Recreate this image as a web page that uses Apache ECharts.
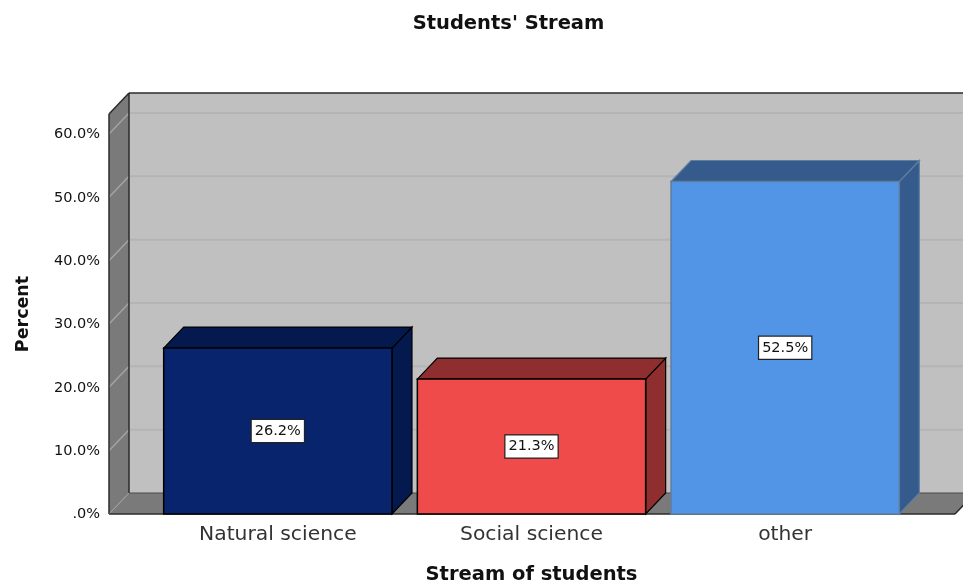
<!DOCTYPE html>
<html>
<head>
<meta charset="utf-8">
<style>html,body{margin:0;padding:0;background:#fff}#c{width:963px;height:584px}</style>
<script src="https://cdn.jsdelivr.net/npm/echarts@6/dist/echarts.min.js"></script>
</head>
<body>
<div id="c"></div>
<script>
const categories = ['Natural science', 'Social science', 'other'];
const percents = [26.2, 21.3, 52.5];
const yTicks = [0, 10, 20, 30, 40, 50, 60];
const frontColors = ['#08246c', '#ef4b4b', '#5294e6'];
const sideColors = ['#041a4f', '#8f2e2e', '#355a8c'];
const topColors = ['#041a4f', '#8f2e2e', '#355a8c'];
const edgeColors = ['#000000', '#000000', '#5f7f9f'];

const DX = 20, DY = 21, PAD_L = 42, PAD_R = 43;
const chart = echarts.init(document.getElementById('c'), null, {renderer: 'canvas'});

function poly(points, fill, stroke, lw) {
  return {type: 'polygon', shape: {points}, style: {fill, stroke: stroke || 'none', lineWidth: lw || 1}};
}
function line(x1, y1, x2, y2, stroke, lw) {
  return {type: 'line', shape: {x1, y1, x2, y2}, style: {stroke, lineWidth: lw || 1}};
}

function renderWalls(params, api) {
  const cs = params.coordSys;
  const xL = cs.x - PAD_L, xR = cs.x + cs.width + PAD_R;
  const yB = api.coord([0, 0])[1];
  const yT = cs.y;
  const children = [
    poly([[xL + DX, yT - DY], [xR + DX, yT - DY], [xR + DX, yB - DY], [xL + DX, yB - DY]], '#c0c0c0'),
    poly([[xL, yT], [xL + DX, yT - DY], [xL + DX, yB - DY], [xL, yB]], '#7a7a7a'),
    poly([[xL, yB], [xL + DX, yB - DY], [xR + DX, yB - DY], [xR, yB]], '#7a7a7a')
  ];
  yTicks.forEach(t => {
    if (t === 0) return;
    const y = api.coord([0, t])[1];
    children.push(line(xL + DX, y - DY, xR + DX, y - DY, '#b4b4b4', 2));
    children.push(line(xL, y, xL + DX, y - DY, '#a3a3a3', 1.5));
  });
  children.push(line(xL + DX, yT - DY, xR + DX, yT - DY, '#2b2b2b', 1.5));
  children.push(line(xL + DX, yT - DY, xL + DX, yB - DY, '#2b2b2b', 1.5));
  children.push(line(xL, yT, xL + DX, yT - DY, '#2b2b2b', 1.5));
  children.push(line(xL, yT, xL, yB, '#2b2b2b', 1.5));
  children.push(line(xL + DX, yB - DY, xR + DX, yB - DY, '#4a4a4a', 1));
  children.push(line(xL, yB, xL + DX, yB - DY, '#a3a3a3', 1));
  children.push(line(xL, yB, xR, yB, '#2b2b2b', 1.5));
  children.push(line(xR, yB, xR + DX, yB - DY, '#2b2b2b', 1.5));
  return {type: 'group', children};
}

function renderBar(params, api) {
  const i = api.value(0), v = api.value(1);
  const c = api.coord([i, v]), b = api.coord([i, 0]);
  const w = api.size([1, 0])[0] * 0.9;
  const x0 = c[0] - w / 2, x1 = c[0] + w / 2, yT = c[1], yB = b[1];
  const e = edgeColors[i];
  const mid = api.coord([i, v / 2])[1];
  return {type: 'group', children: [
    poly([[x1, yT], [x1 + DX, yT - DY], [x1 + DX, yB - DY], [x1, yB]], sideColors[i], e, 1.2),
    poly([[x0, yT], [x0 + DX, yT - DY], [x1 + DX, yT - DY], [x1, yT]], topColors[i], e, 1.2),
    poly([[x0, yT], [x1, yT], [x1, yB], [x0, yB]], frontColors[i], e, 1.5),
    {type: 'text', x: c[0], y: mid, style: {
      text: percents[i].toFixed(1) + '%', fill: '#111', font: '14.5px "DejaVu Sans"',
      align: 'center', verticalAlign: 'middle', backgroundColor: '#fff',
      borderColor: '#222', borderWidth: 1.2, padding: [4, 3, 3, 3]
    }}
  ]};
}

chart.setOption({
  animation: false,
  backgroundColor: '#fff',
  title: {text: "Students' Stream", left: 503.5, top: 9, textAlign: 'center',
    textStyle: {fontFamily: 'DejaVu Sans', fontWeight: 'bold', fontSize: 19.5, color: '#111'}},
  grid: {left: 151, width: 761, top: 114, height: 400, outerBoundsMode: 'none'},
  xAxis: {type: 'category', data: categories,
    axisLine: {show: false}, axisTick: {show: false},
    axisLabel: {margin: 11, fontFamily: 'DejaVu Sans', fontSize: 20.3, color: '#333'},
    name: 'Stream of students', nameLocation: 'middle', nameGap: 51,
    nameTextStyle: {fontFamily: 'DejaVu Sans', fontWeight: 'bold', fontSize: 19.5, color: '#111'}},
  yAxis: {type: 'value', min: 0, max: 63.16, interval: 10,
    axisLine: {show: false}, axisTick: {show: false}, splitLine: {show: false},
    axisLabel: {margin: 51, showMaxLabel: false, verticalAlign: 'top', padding: [-7, 0, 0, 0], fontFamily: 'DejaVu Sans', fontSize: 14.5, color: '#111',
      formatter: v => v === 0 ? '.0%' : v.toFixed(1) + '%'},
    name: 'Percent', nameLocation: 'middle', nameGap: 119, nameRotate: 90,
    nameTextStyle: {fontFamily: 'DejaVu Sans', fontWeight: 'bold', fontSize: 17.5, color: '#111'}},
  series: [
    {type: 'custom', silent: true, z: 1, renderItem: renderWalls, data: [[0, 0]], encode: {x: 0, y: 1}},
    {type: 'custom', silent: true, z: 2, renderItem: renderBar,
      data: percents.map((p, i) => [i, p]), encode: {x: 0, y: 1}}
  ]
});
</script>
</body>
</html>
